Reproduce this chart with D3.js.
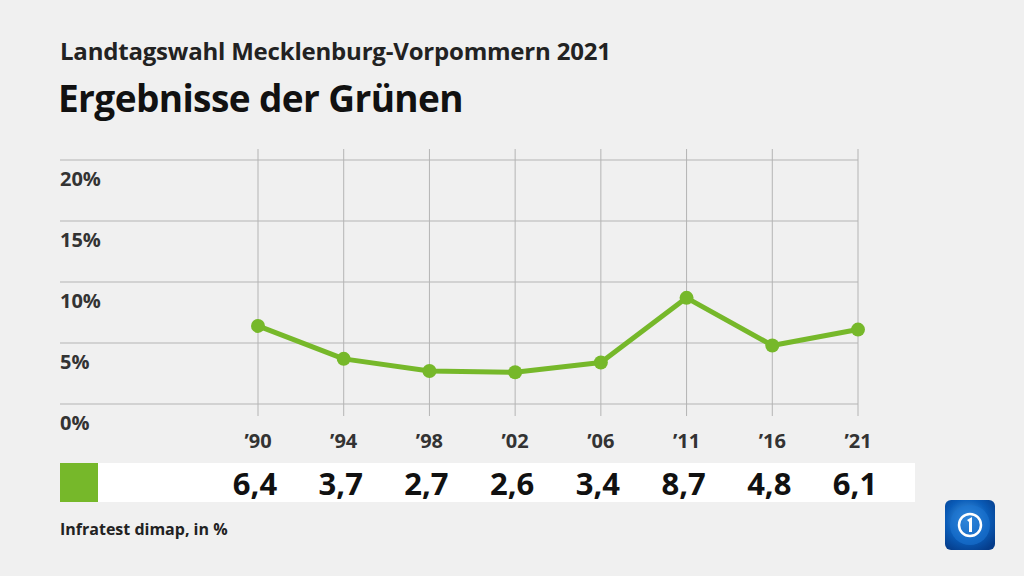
<!DOCTYPE html>
<html>
<head>
<meta charset="utf-8">
<script src="https://cdn.jsdelivr.net/npm/d3@7"></script>
<style>
  body { margin: 0; background: #f0f0f0; }
  svg { display: block; font-family: "Open Sans", "Noto Sans", sans-serif; }
</style>
</head>
<body>
<svg id="chart" width="1024" height="576"></svg>
<script>
// data
var years = ["’90", "’94", "’98", "’02", "’06", "’11", "’16", "’21"];
var values = [6.4, 3.7, 2.7, 2.6, 3.4, 8.7, 4.8, 6.1];
var yTicks = [0, 5, 10, 15, 20];
var lineColor = "#76b82a";

var svg = d3.select("#chart");

svg.append("rect").attr("width", 1024).attr("height", 576).attr("fill", "#f0f0f0");

// titles
svg.append("text")
    .attr("x", 60).attr("y", 60)
    .attr("font-size", 24).attr("font-weight", 700).attr("fill", "#222")
    .attr("letter-spacing", -0.2)
    .text("Landtagswahl Mecklenburg-Vorpommern 2021");
svg.append("text")
    .attr("x", 58).attr("y", 112)
    .attr("font-size", 37).attr("font-weight", 700).attr("fill", "#111")
    .attr("letter-spacing", -0.6)
    .text("Ergebnisse der Grünen");

// scales
var x = d3.scalePoint().domain(years).range([258, 858]);
var y = d3.scaleLinear().domain([0, 20]).range([404, 160]);

// horizontal grid
var grid_g = svg.append("g");
grid_g.selectAll(".hgrid")
    .data(yTicks)
    .join("line")
    .classed("hgrid", true)
    .attr("x1", 60).attr("x2", 858)
    .attr("y1", d=>y(d)).attr("y2", d=>y(d))
    .attr("stroke", "#b4b4b4").attr("stroke-width", 1);

// vertical grid
grid_g.selectAll(".vgrid")
    .data(years)
    .join("line")
    .classed("vgrid", true)
    .attr("x1", d=>x(d)).attr("x2", d=>x(d))
    .attr("y1", 149).attr("y2", 416)
    .attr("stroke", "#b4b4b4").attr("stroke-width", 1);

// y labels
svg.selectAll(".ylab")
    .data(yTicks)
    .join("text")
    .classed("ylab", true)
    .attr("x", 60).attr("y", d=>y(d) + 26)
    .attr("font-size", 20).attr("font-weight", 700).attr("fill", "#333")
    .text(d=>d + "%");

// x labels
svg.selectAll(".xlab")
    .data(years)
    .join("text")
    .classed("xlab", true)
    .attr("x", d=>x(d)).attr("y", 448)
    .attr("text-anchor", "middle")
    .attr("font-size", 20).attr("font-weight", 700).attr("fill", "#333")
    .text(d=>d);

// line + dots
var line = d3.line()
    .x((d, i)=>x(years[i]))
    .y(d=>y(d));

svg.append("path")
    .datum(values)
    .attr("d", line)
    .attr("fill", "none")
    .attr("stroke", lineColor)
    .attr("stroke-width", 5)
    .attr("stroke-linejoin", "round");

svg.selectAll(".dot")
    .data(values)
    .join("circle")
    .classed("dot", true)
    .attr("cx", (d, i)=>x(years[i]))
    .attr("cy", d=>y(d))
    .attr("r", 7)
    .attr("fill", lineColor);

// value row
svg.append("rect")
    .attr("x", 60).attr("y", 463).attr("width", 855).attr("height", 39)
    .attr("fill", "#fff");
svg.append("rect")
    .attr("x", 60).attr("y", 463).attr("width", 38).attr("height", 39)
    .attr("fill", lineColor);

svg.selectAll(".val")
    .data(values)
    .join("text")
    .classed("val", true)
    .attr("x", (d, i)=>x(years[i]) - 3)
    .attr("y", 495)
    .attr("text-anchor", "middle")
    .attr("font-size", 31).attr("font-weight", 700).attr("fill", "#111")
    .text(d=>d3.format(".1f")(d).replace(".", ","));

// source
svg.append("text")
    .attr("x", 60).attr("y", 535)
    .attr("font-size", 16).attr("font-weight", 700).attr("fill", "#222")
    .text("Infratest dimap, in %");

// logo
var defs = svg.append("defs");
var grad = defs.append("radialGradient").attr("id", "logoGrad")
    .attr("cx", "45%").attr("cy", "40%").attr("r", "70%");
grad.append("stop").attr("offset", "0%").attr("stop-color", "#4fa3e8");
grad.append("stop").attr("offset", "60%").attr("stop-color", "#0a5cb8");
grad.append("stop").attr("offset", "100%").attr("stop-color", "#053c8a");

var logo = svg.append("g").attr("transform", "translate(945,500)");
logo.append("rect").attr("width", 50).attr("height", 50).attr("rx", 6)
    .attr("fill", "url(#logoGrad)");
logo.append("circle").attr("cx", 25).attr("cy", 25).attr("r", 20)
    .attr("fill", "#1a73d0").attr("opacity", 0.6);
logo.append("circle").attr("cx", 25).attr("cy", 25).attr("r", 11)
    .attr("fill", "none").attr("stroke", "#fff").attr("stroke-width", 2.5);
logo.append("path")
    .attr("d", "M22,20 L27,17 L27,32 L24,32 L24,22 Z")
    .attr("fill", "#fff");
</script>
</body>
</html>
